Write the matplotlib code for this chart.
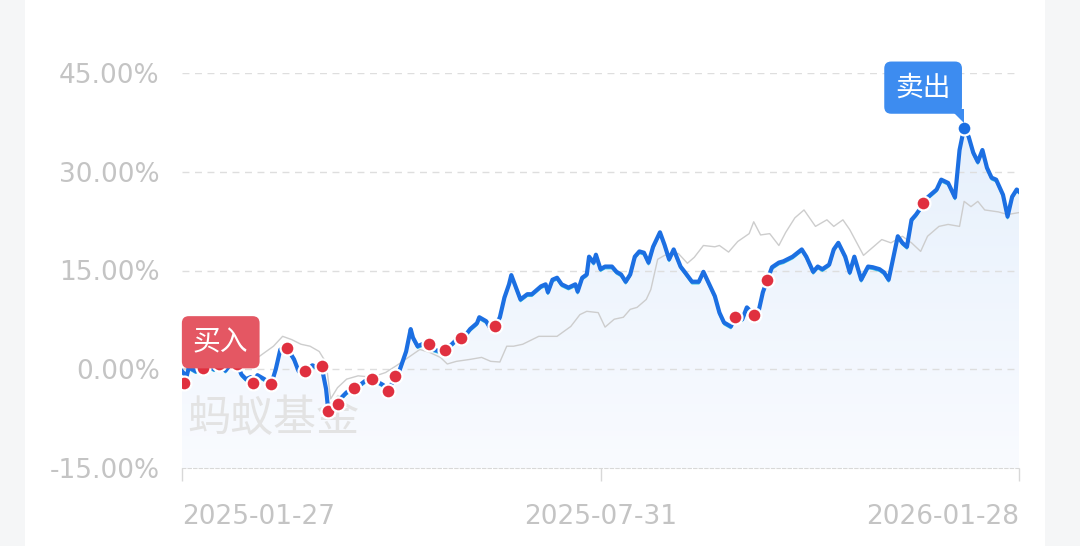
import numpy as np
import matplotlib
matplotlib.use("Agg")
import matplotlib.pyplot as plt
from matplotlib.patches import Rectangle, Polygon
from matplotlib.colors import LinearSegmentedColormap
from matplotlib import transforms

plt.rcParams['font.family'] = ['DejaVu Sans', 'Noto Sans CJK SC']

# days since 2025-01-27 and cumulative return (%)
fund_days = [0, 2, 3, 6, 9, 11, 14, 16, 19, 22, 24, 26, 28, 30, 31, 33, 36, 39, 41, 43,
             46, 49, 51, 54, 57, 59, 61, 63, 64, 66, 68, 70, 72, 75, 77, 80, 83, 86, 88, 90,
             92, 93, 95, 98, 100, 101, 103, 105, 108, 110, 113, 115, 118, 120, 122, 124, 126, 129, 130, 133,
             135, 137, 139, 141, 143, 144, 148, 151, 153, 157, 159, 160, 162, 164, 166, 169, 172, 173, 175, 177,
             178, 180, 181, 183, 185, 188, 190, 192, 194, 196, 198, 200, 202, 204, 206, 209, 211, 213, 215, 218,
             220, 223, 226, 228, 231, 233, 235, 237, 240, 242, 245, 247, 250, 252, 254, 256, 258, 261, 263, 267,
             271, 273, 276, 278, 280, 283, 285, 287, 290, 292, 294, 297, 300, 302, 305, 307, 309, 313, 315, 317,
             319, 321, 324, 326, 330, 332, 335, 338, 340, 342, 344, 346, 348, 350, 352, 354, 356, 359, 361, 363,
             365, 366]
fund_vals = [-0.3, -1.1, 0.3, -0.3, 0.2, 0.6, 0.0, 0.8, -0.2, 1.1, 0.8, -0.8, -1.5, -1.2, -2.1, -0.9, -1.5, -2.3, 0.0, 3.0,
             3.2, 1.5, -0.3, -0.3, 0.6, 0.3, 0.5, -3.0, -6.4, -6.1, -5.3, -4.2, -3.5, -2.9, -2.6, -1.8, -1.5, -2.0, -2.4, -3.3,
             -2.0, -1.1, -0.3, 2.7, 6.1, 4.8, 3.5, 3.8, 3.9, 3.0, 2.7, 3.0, 3.8, 4.5, 4.8, 5.2, 6.1, 7.0, 7.9, 7.3,
             6.1, 6.5, 7.9, 10.9, 12.9, 14.3, 10.6, 11.4, 11.4, 12.6, 12.9, 11.7, 13.6, 13.9, 12.9, 12.4, 12.9, 11.8, 13.9, 14.4,
             17.1, 16.2, 17.4, 15.2, 15.6, 15.6, 14.8, 14.4, 13.3, 14.4, 17.1, 17.9, 17.7, 16.2, 18.6, 20.8, 18.9, 16.7, 18.2, 15.6,
             14.7, 13.3, 13.3, 14.8, 12.6, 11.1, 8.6, 7.1, 6.5, 7.9, 7.6, 9.4, 8.3, 8.6, 11.7, 13.6, 15.5, 16.2, 16.4, 17.1,
             18.2, 17.1, 14.8, 15.6, 15.2, 15.9, 18.2, 19.2, 17.1, 14.7, 17.1, 13.6, 15.6, 15.5, 15.2, 14.7, 13.6, 20.2, 19.2, 18.6,
             22.7, 23.5, 25.0, 26.1, 27.3, 28.8, 28.3, 26.1, 33.3, 36.7, 35.3, 32.9, 31.5, 33.3, 30.6, 29.1, 28.8, 26.5, 23.2, 26.2,
             27.3, 27.0]

bench_days = [0, 8, 16, 24, 30, 36, 40, 44, 48, 52, 56, 60, 63, 65, 68, 72, 77, 83, 89, 94,
              99, 104, 108, 113, 116, 120, 126, 131, 135, 139, 142, 145, 149, 156, 164, 170, 174, 177, 182, 185,
              189, 193, 196, 199, 203, 205, 208, 211, 217, 221, 224, 228, 233, 235, 239, 243, 248, 250, 253, 257,
              261, 264, 268, 272, 275, 277, 282, 285, 289, 292, 298, 301, 306, 310, 315, 319, 323, 326, 331, 335,
              340, 342, 345, 348, 351, 357, 361, 366]
bench_vals = [0.0, 0.3, 0.5, 0.2, 1.0, 2.5, 3.5, 5.0, 4.5, 3.8, 3.5, 2.7, 1.0, -4.5, -2.8, -1.5, -1.0, -1.2, -0.5, 0.6,
              1.8, 3.0, 2.6, 1.8, 0.8, 1.2, 1.5, 1.8, 1.2, 1.1, 3.5, 3.5, 3.8, 5.0, 5.0, 6.5, 8.3, 8.8, 8.6, 6.4,
              7.6, 7.9, 9.1, 9.4, 10.6, 12.1, 16.7, 17.3, 17.6, 16.1, 17.0, 18.8, 18.6, 18.8, 17.8, 19.4, 20.6, 22.4, 20.4, 20.6,
              18.8, 20.8, 23.0, 24.2, 22.7, 21.7, 22.7, 21.7, 22.7, 21.2, 17.3, 18.2, 19.7, 19.2, 20.2, 19.2, 17.9, 20.2, 21.7, 22.0,
              21.7, 25.5, 24.7, 25.5, 24.2, 23.9, 23.5, 23.8]

buy_days = [1, 9, 16, 24, 31, 39, 46, 54, 61, 64, 68, 75, 83, 90, 93, 108, 115, 122, 137, 242, 250, 256, 324]
buy_vals = [-2.1, 0.2, 0.8, 0.8, -2.1, -2.3, 3.2, -0.3, 0.5, -6.4, -5.3, -2.9, -1.5, -3.3, -1.1, 3.9, 3.0, 4.8, 6.5, 7.9, 8.3, 13.6, 25.2]

sell_day, sell_val = 342, 36.7

y_ticks = [-15, 0, 15, 30, 45]
x_tick_pos = [0, 183, 366]
x_tick_labels = ['2025-01-27', '2025-07-31', '2026-01-28']

fig = plt.figure(figsize=(10.8, 5.46), dpi=100)
fig.patch.set_facecolor('#f5f6f7')
bg = Rectangle((25 / 1080, 0), 1020 / 1080, 1, transform=fig.transFigure,
               facecolor='white', edgecolor='none', zorder=-5)
fig.add_artist(bg)

ax = fig.add_axes([182 / 1080, 78 / 546, 837 / 1080, 395 / 546])
ax.set_zorder(1)
ax.set_facecolor('none')

# gradient fill under fund line
grad = np.linspace(0, 1, 256).reshape(-1, 1)
cmap = LinearSegmentedColormap.from_list('fill', ['#f9fbff', '#e6f0fc'])
img = ax.imshow(grad, extent=[0, 366, -15, 38], origin='lower', cmap=cmap,
                aspect='auto', zorder=1)
clip = Polygon(np.vstack([np.column_stack([fund_days, fund_vals]), [[366, -15], [0, -15]]]),
               transform=ax.transData, facecolor='none', edgecolor='none')
ax.add_patch(clip)
img.set_clip_path(clip)
ax.set_xlim(0, 366)
ax.set_ylim(-15, 45)

# grid
for v in y_ticks[1:]:
    ax.axhline(v, color='#dedede', lw=1, ls=(0, (5, 4)), zorder=2)

ax.plot(bench_days, bench_vals, color='#cdcdcd', lw=1.0, zorder=3)

shadow = transforms.offset_copy(ax.transData, fig=fig, x=0, y=-2, units='dots')
ax.plot(fund_days, fund_vals, color='#3cc4e0', lw=1.2, zorder=4, transform=shadow)
ax.plot(fund_days, fund_vals, color='#1c6fe2', lw=3.0, zorder=5,
        solid_joinstyle='round')

ax.scatter(buy_days, buy_vals, s=100, color='#e0303f', edgecolor='white', linewidth=1.6, zorder=6)
ax.scatter([sell_day], [sell_val], s=100, color='#1c6fe2', edgecolor='white', linewidth=1.6, zorder=6)

# spines / ticks
for s in ['top', 'right', 'left']:
    ax.spines[s].set_visible(False)
ax.spines['bottom'].set_color('#d8d8d8')
ax.spines['bottom'].set_linestyle((0, (3, 2)))
ax.set_yticks(y_ticks)
ax.set_yticklabels(['%.2f%%' % v for v in y_ticks])
ax.tick_params(axis='y', length=0, pad=16, labelsize=19, labelcolor='#c4c4c4')
ax.set_xticks(x_tick_pos)
ax.set_xticklabels(x_tick_labels)
ax.tick_params(axis='x', length=9, width=1, color='#d8d8d8', pad=17, labelsize=19, labelcolor='#c4c4c4')
xl = ax.get_xticklabels()
xl[0].set_ha('left')
xl[-1].set_ha('right')

cjk = ['Noto Sans CJK SC', 'DejaVu Sans']

# watermark
ax.text(2.5, -7.6, '蚂蚁基金', family=cjk, fontsize=31, color='#e3e3e3', va='center', ha='left', zorder=1.5)

# buy label
ax.text(4.8, 4.1, '买入', family=cjk, fontsize=20, color='white', ha='left', va='center', zorder=7,
        bbox=dict(boxstyle='round,pad=0.4,rounding_size=0.25', facecolor='#e45763', edgecolor='none'))

# sell label with pointer
ax.annotate('卖出', xy=(sell_day, sell_val), xytext=(-41, 40), textcoords='offset pixels',
            family=cjk, fontsize=20, color='white', ha='center', va='center', zorder=7,
            bbox=dict(boxstyle='round,pad=0.4,rounding_size=0.25', facecolor='#3d8cf0', edgecolor='none'))
fig.canvas.draw()
px, py = ax.transData.transform((sell_day, sell_val))
tri = Polygon([[px - 14, py + 19], [px, py + 19], [px, py + 5]], closed=True,
              transform=None, facecolor='#3d8cf0', edgecolor='none', zorder=7)
fig.add_artist(tri)

fig.savefig('out.png', dpi=100)
